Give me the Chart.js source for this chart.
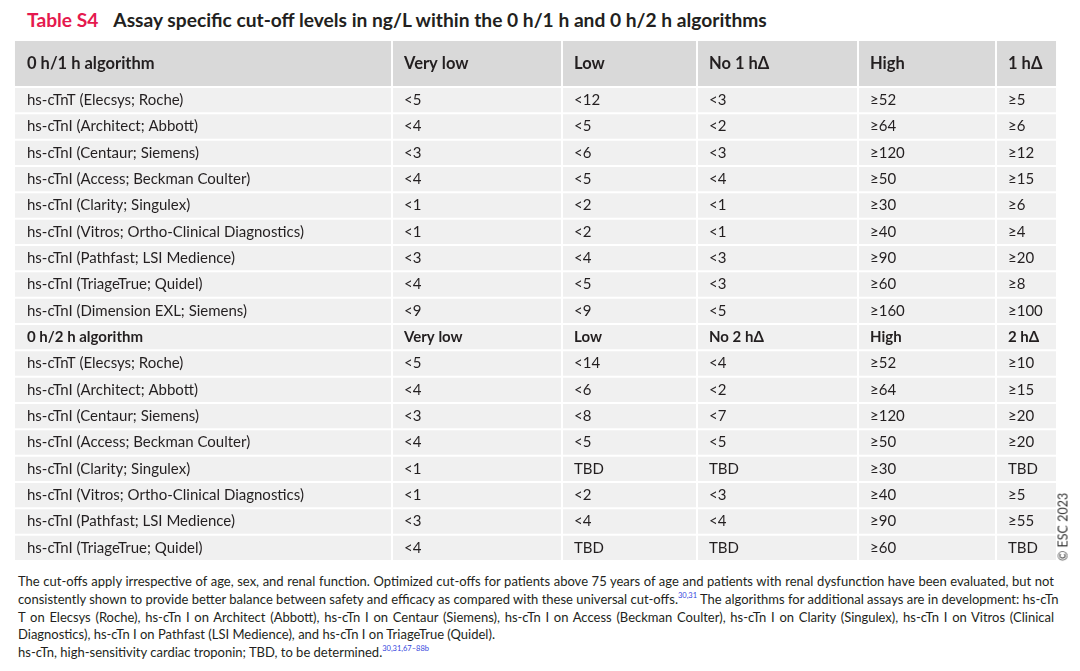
<!DOCTYPE html>
<html>
<head>
<meta charset="utf-8">
<script src="https://cdn.jsdelivr.net/npm/chart.js@4.4.1/dist/chart.umd.min.js"></script>
<style>
  html, body { margin:0; padding:0; background:#fff; }
  body { width:1080px; height:671px; position:relative; overflow:hidden; font-family:'Lato', sans-serif; color:#231f20; }
  #title { position:absolute; left:27px; top:8px; font-size:19.2px; font-weight:bold; white-space:nowrap; color:#231f20; }
  #title .tag { color:#e5194e; margin-right:15px; }
  .box { position:absolute; left:0; width:1080px; }
  #headBox { top:40px; height:47px; }
  #bodyBox { top:87px; height:474px; }
  #notes { position:absolute; left:18px; top:573px; width:1036px; font-size:13px; line-height:17.8px; color:#231f20; }
  #notes .j { text-align:justify; text-align-last:justify; white-space:nowrap; }
  #notes .l { text-align:left; white-space:nowrap; }
  sup { color:#3344dd; font-size:7.5px; vertical-align:6px; line-height:0; }
  #copy { position:absolute; left:1063px; top:527px; transform:translate(-50%,-50%) rotate(-90deg); font-size:12.5px; color:#333; white-space:nowrap; }
</style>
</head>
<body>
<div id="title"><span class="tag">Table S4</span>Assay specific cut-off levels in ng/L within the 0 h/1 h and 0 h/2 h algorithms</div>
<div class="box" id="headBox"><canvas id="head"></canvas></div>
<div class="box" id="bodyBox"><canvas id="body"></canvas></div>
<div id="copy">© ESC 2023</div>
<div id="notes">
  <div class="j">The cut-offs apply irrespective of age, sex, and renal function. Optimized cut-offs for patients above 75 years of age and patients with renal dysfunction have been evaluated, but not</div>
  <div class="j">consistently shown to provide better balance between safety and efficacy as compared with these universal cut-offs.<sup>30,31</sup> The algorithms for additional assays are in development: hs-cTn</div>
  <div class="j">T on Elecsys (Roche), hs-cTn I on Architect (Abbott), hs-cTn I on Centaur (Siemens), hs-cTn I on Access (Beckman Coulter), hs-cTn I on Clarity (Singulex), hs-cTn I on Vitros (Clinical</div>
  <div class="l">Diagnostics), hs-cTn I on Pathfast (LSI Medience), and hs-cTn I on TriageTrue (Quidel).</div>
  <div class="l">hs-cTn, high-sensitivity cardiac troponin; TBD, to be determined.<sup>30,31,67–88b</sup></div>
</div>
<script>
// ---------- DATA ----------
const headers1 = ['0 h/1 h algorithm', 'Very low', 'Low', 'No 1 h\u0394', 'High', '1 h\u0394'];
const headers2 = ['0 h/2 h algorithm', 'Very low', 'Low', 'No 2 h\u0394', 'High', '2 h\u0394'];

const assays1 = ['hs-cTnT (Elecsys; Roche)', 'hs-cTnI (Architect; Abbott)', 'hs-cTnI (Centaur; Siemens)',
  'hs-cTnI (Access; Beckman Coulter)', 'hs-cTnI (Clarity; Singulex)', 'hs-cTnI (Vitros; Ortho-Clinical Diagnostics)',
  'hs-cTnI (Pathfast; LSI Medience)', 'hs-cTnI (TriageTrue; Quidel)', 'hs-cTnI (Dimension EXL; Siemens)'];
const veryLow1 = ['<5', '<4', '<3', '<4', '<1', '<1', '<3', '<4', '<9'];
const low1     = ['<12', '<5', '<6', '<5', '<2', '<2', '<4', '<5', '<9'];
const noDelta1 = ['<3', '<2', '<3', '<4', '<1', '<1', '<3', '<3', '<5'];
const high1    = ['\u226552', '\u226564', '\u2265120', '\u226550', '\u226530', '\u226540', '\u226590', '\u226560', '\u2265160'];
const delta1   = ['\u22655', '\u22656', '\u226512', '\u226515', '\u22656', '\u22654', '\u226520', '\u22658', '\u2265100'];

const assays2 = ['hs-cTnT (Elecsys; Roche)', 'hs-cTnI (Architect; Abbott)', 'hs-cTnI (Centaur; Siemens)',
  'hs-cTnI (Access; Beckman Coulter)', 'hs-cTnI (Clarity; Singulex)', 'hs-cTnI (Vitros; Ortho-Clinical Diagnostics)',
  'hs-cTnI (Pathfast; LSI Medience)', 'hs-cTnI (TriageTrue; Quidel)'];
const veryLow2 = ['<5', '<4', '<3', '<4', '<1', '<1', '<3', '<4'];
const low2     = ['<14', '<6', '<8', '<5', 'TBD', '<2', '<4', 'TBD'];
const noDelta2 = ['<4', '<2', '<7', '<5', 'TBD', '<3', '<4', 'TBD'];
const high2    = ['\u226552', '\u226564', '\u2265120', '\u226550', '\u226530', '\u226540', '\u226590', '\u226560'];
const delta2   = ['\u226510', '\u226515', '\u226520', '\u226520', 'TBD', '\u22655', '\u226555', 'TBD'];

// ---------- LAYOUT (not data) ----------
const colEdges = [0, 378, 548, 683, 844, 982, 1043];
const FONT = 'Lato';
const TEXT = '#231f20';

function buildTable(canvasId, rowLabels, columns, bg, boldRows, size) {
  const datasets = columns.map((col, j) => ({
    data: rowLabels.map(() => [colEdges[j], colEdges[j + 1]]),
    cellText: col,
    backgroundColor: bg,
    borderColor: '#ffffff',
    borderWidth: 1.3,
    borderSkipped: false,
    grouped: false,
    barPercentage: 1,
    categoryPercentage: 1
  }));
  const cellTextPlugin = {
    id: 'cellText',
    afterDatasetsDraw(chart) {
      const ctx = chart.ctx;
      ctx.save();
      ctx.fillStyle = TEXT;
      ctx.textBaseline = 'middle';
      ctx.textAlign = 'left';
      chart.data.datasets.forEach((ds, j) => {
        if (j === 0) return;
        chart.getDatasetMeta(j).data.forEach((bar, i) => {
          const bold = boldRows.includes(i);
          ctx.font = (bold ? 'bold ' : '') + size + 'px ' + FONT;
          ctx.fillText(ds.cellText[i], Math.min(bar.base, bar.x) + 12, bar.y);
        });
      });
      ctx.restore();
    }
  };
  return new Chart(document.getElementById(canvasId), {
    type: 'bar',
    data: { labels: rowLabels, datasets },
    plugins: [cellTextPlugin],
    options: {
      indexAxis: 'y',
      responsive: true,
      maintainAspectRatio: false,
      animation: false,
      events: [],
      layout: { padding: { left: 14, right: 23, top: 0, bottom: 0 } },
      plugins: { legend: { display: false }, tooltip: { enabled: false }, title: { display: false } },
      scales: {
        x: { type: 'linear', min: 0, max: 1043, display: false },
        y: {
          type: 'category',
          grid: { display: false },
          border: { display: false },
          afterFit(scale) {
            scale.width = 0;
            scale.paddingTop = 0; scale.paddingBottom = 0;
            scale.paddingLeft = 0; scale.paddingRight = 0;
          },
          ticks: {
            z: 1,
            mirror: true,
            padding: 13,
            color: TEXT,
            autoSkip: false,
            font: (c) => ({ family: FONT, size: size, weight: boldRows.includes(c.index) ? 'bold' : 'normal' })
          }
        }
      }
    }
  });
}

// Header row
buildTable('head', [headers1[0]], headers1.map(h => [h]), '#d9d9d9', [0], 16.5);

// Body rows (0 h/1 h block, sub-header, 0 h/2 h block)
const bodyLabels = assays1.concat([headers2[0]], assays2);
const bodyCols = [
  bodyLabels,
  veryLow1.concat([headers2[1]], veryLow2),
  low1.concat([headers2[2]], low2),
  noDelta1.concat([headers2[3]], noDelta2),
  high1.concat([headers2[4]], high2),
  delta1.concat([headers2[5]], delta2)
];
buildTable('body', bodyLabels, bodyCols, '#f0f0f0', [assays1.length], 15);
</script>
</body>
</html>
